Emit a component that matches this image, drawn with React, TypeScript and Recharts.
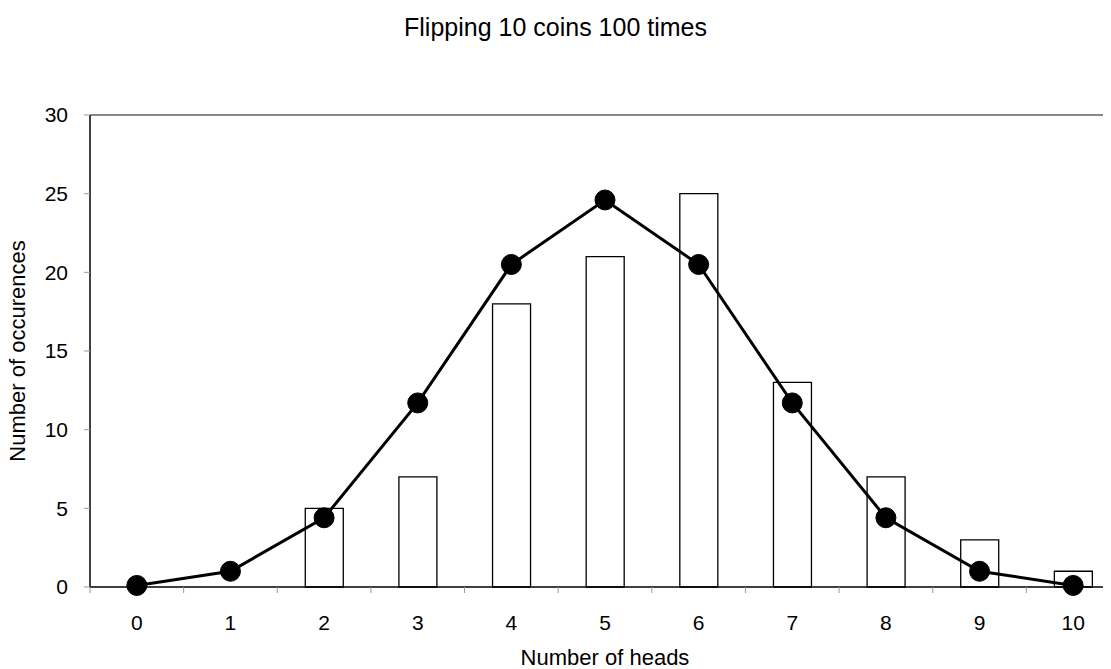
import { Bar, ComposedChart, Label, Line, ReferenceLine, XAxis, YAxis } from "recharts";

const heads = [0, 1, 2, 3, 4, 5, 6, 7, 8, 9, 10];
const observed = [0, 0, 5, 7, 18, 21, 25, 13, 7, 3, 1];
const expected = [0.1, 1.0, 4.4, 11.7, 20.5, 24.6, 20.5, 11.7, 4.4, 1.0, 0.1];
const yTicks = [0, 5, 10, 15, 20, 25, 30];
const binEdges = [-0.5, 0.5, 1.5, 2.5, 3.5, 4.5, 5.5, 6.5, 7.5, 8.5, 9.5, 10.5];

const data = heads.map((h, i) => ({ heads: h, observed: observed[i], expected: expected[i] }));
const xTicks = [...binEdges, ...heads].sort((a, b) => a - b);

const font = "'Liberation Sans', Arial, sans-serif";

// integer ticks get a label, half-way ticks get the short gray mark between bins
function HeadTick(props: any) {
  const { x, y, payload } = props;
  const v = payload.value as number;
  if (!Number.isInteger(v)) {
    return <line x1={x} y1={y} x2={x} y2={y + 6} stroke="#999" strokeWidth={1} />;
  }
  return (
    <text x={x} y={y + 28} textAnchor="middle" dy="0.71em" fontSize={21} fontFamily={font} fill="#000">
      {v}
    </text>
  );
}

export default function App() {
  return (
    <div style={{ position: "relative", width: 1103, height: 661, overflow: "hidden" }}>
      <div
        style={{
          position: "absolute",
          top: 4,
          left: 0,
          width: 1095,
          textAlign: "center",
          fontFamily: font,
          fontSize: 25,
          lineHeight: "30px",
          color: "#000",
        }}
      >
        Flipping 10 coins 100 times
      </div>
      <ComposedChart width={1112} height={661} data={data} margin={{ top: 107, right: 0, left: 0, bottom: 0 }}>
        <XAxis
          dataKey="heads"
          type="number"
          domain={[-0.5, 10.5]}
          ticks={xTicks}
          interval={0}
          tick={<HeadTick />}
          tickLine={false}
          tickSize={0}
          tickMargin={0}
          height={82}
          axisLine={{ stroke: "#000", strokeWidth: 1.5 }}
          allowDataOverflow
        >
          <Label
            value="Number of heads"
            position="insideBottom"
            offset={4}
            style={{ fontFamily: font, fontSize: 22, fill: "#000" }}
          />
        </XAxis>
        <YAxis
          domain={[0, 30]}
          ticks={yTicks}
          interval={0}
          width={82}
          tickSize={6}
          tickMargin={16}
          tickLine={{ stroke: "#999" }}
          axisLine={{ stroke: "#000", strokeWidth: 1.5 }}
          tick={{ fontFamily: font, fontSize: 21, fill: "#000" }}
        >
          <Label
            value="Number of occurences"
            angle={-90}
            position="insideLeft"
            offset={9}
            style={{ textAnchor: "middle", fontFamily: font, fontSize: 22, fill: "#000" }}
          />
        </YAxis>
        <ReferenceLine y={30} stroke="#888" strokeWidth={2} />
        <Bar dataKey="observed" barSize={38} fill="#fff" stroke="#000" strokeWidth={1.3} isAnimationActive={false} />
        <Line
          dataKey="expected"
          type="linear"
          stroke="#000"
          strokeWidth={3}
          dot={{ r: 10, fill: "#000", stroke: "#000", strokeWidth: 1 }}
          activeDot={false}
          isAnimationActive={false}
        />
      </ComposedChart>
    </div>
  );
}
